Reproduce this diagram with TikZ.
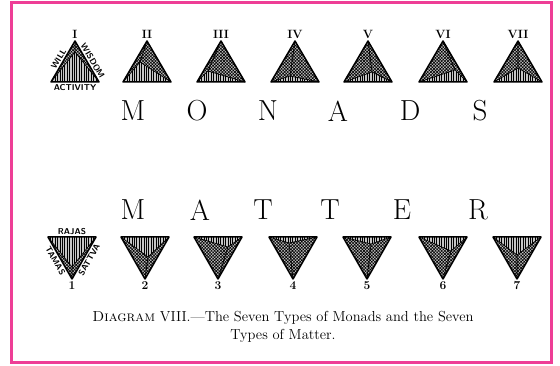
\documentclass[tikz,border=0pt]{standalone}
\usepackage{tikz}
\usetikzlibrary{patterns.meta,positioning}
\definecolor{framepink}{RGB}{238,62,150}
\tikzset{
	outline/.style={draw=black, line width=1.5pt, line join=round},
	facet/.style={draw=black, line width=0.7pt},
	numeral/.style={font=\bfseries\fontsize{12}{12}\selectfont, inner sep=1pt},
	bigcap/.style={font=\fontsize{29}{30}\selectfont, inner sep=0pt},
	aspect/.style={font=\sffamily\bfseries\fontsize{8.5}{9}\selectfont, inner sep=2pt},
	vhatch/.style={pattern={Lines[angle=90, distance=2.4pt, line width=0.7pt]}},
	xhatch/.style={pattern={Hatch[angle=45, distance=2.2pt, line width=0.6pt]}},
	pics/monad/.style n args={3}{code={
		\coordinate (-l) at (-24,0);
		\coordinate (-r) at (24,0);
		\coordinate (-a) at (0,#1);
		\coordinate (-p) at (#2,#3);
		\fill[gray!45] (-l) -- (-r) -- (-a) -- cycle;
		\fill[vhatch] (-l) -- (-r) -- (-p) -- cycle;
		\fill[xhatch] (-l) -- (-a) -- (-p) -- cycle;
		\fill[xhatch] (-r) -- (-a) -- (-p) -- cycle;
		\draw[facet] (-p) -- (-l) (-p) -- (-r) (-p) -- (-a);
		\draw[outline] (-l) -- (-r) -- (-a) -- cycle;
	}}
}

\begin{document}
\begin{tikzpicture}[x=1pt, y=-1pt]
	\useasboundingbox (0,0) rectangle (560,366);
	\draw[framepink, line width=3pt] (11,3) rectangle (551,362);

	% seven types of monads
	\foreach \cx/\num/\px/\py [count=\i] in {75/I/0/-30, 147/II/-7/-20, 221/III/-13/-11,
			295/IV/-5/-6, 368/V/4/-10, 443/VI/12/-12, 518/VII/0/-14}{
		\pic (up\i) at (\cx,82) {monad={-41}{\px}{\py}};
		\node[numeral, above=1pt of up\i-a] (upnum\i) {\num};
	}
	\path (up1-l) -- node[aspect, sloped, above, pos=0.5] (will) {WILL} (up1-a);
	\path (up1-a) -- node[aspect, sloped, above, pos=0.55] (wisdom) {WISDOM} (up1-r);
	\path (up1-l) -- node[aspect, below] (activity) {ACTIVITY} (up1-r);

	\foreach \x/\letter [count=\i] in {133/M, 197/O, 268/N, 338/A, 410/D, 480/S}
		\node[bigcap] (monads\i) at (\x,111) {\letter};

	% seven types of matter
	\foreach \x/\letter [count=\i] in {133/M, 200/A, 263/T, 330/T, 402/E, 478/R}
		\node[bigcap] (matter\i) at (\x,210) {\letter};

	\foreach \cx/\px/\py [count=\i] in {72/0/30, 145/3/20, 218/10/10,
			293/-4/6, 367/4/7, 443/8/14, 517/0/18}{
		\pic (down\i) at (\cx,237) {monad={42}{\px}{\py}};
		\node[numeral, below=1pt of down\i-a] (downnum\i) {\i};
	}
	\path (down1-l) -- node[aspect, above] (rajas) {RAJAS} (down1-r);
	\path (down1-l) -- node[aspect, sloped, below, pos=0.5] (tamas) {TAMAS} (down1-a);
	\path (down1-a) -- node[aspect, sloped, below, pos=0.52] (sattva) {SATTVA} (down1-r);

	\node[font=\fontsize{14.5}{17.5}\selectfont, align=center] (caption) at (283,327)
		{\textsc{Diagram} VIII.---The Seven Types of Monads and the Seven\\Types of Matter.};
\end{tikzpicture}
\end{document}
